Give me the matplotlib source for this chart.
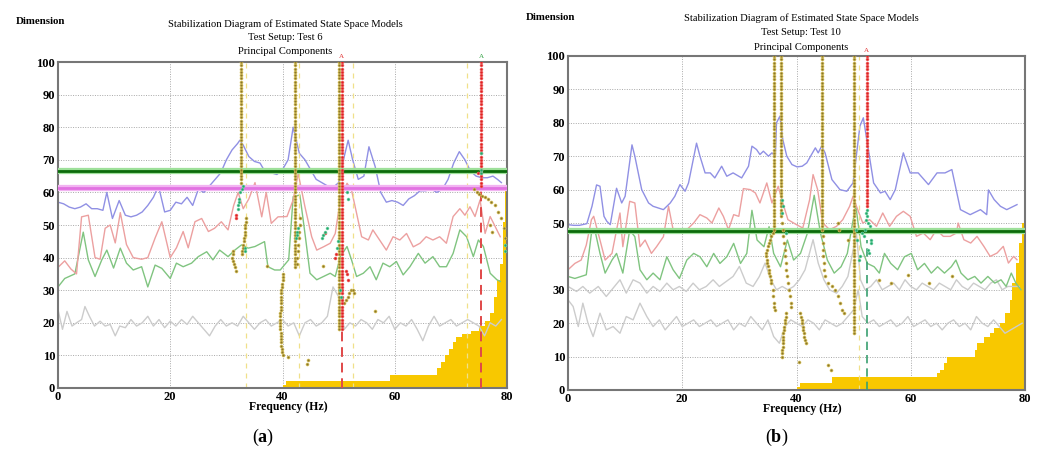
import numpy as np
import matplotlib.pyplot as plt

plt.rcParams['font.family'] = 'Liberation Serif'
plt.rcParams['mathtext.fontset'] = 'custom'
plt.rcParams['mathtext.rm'] = 'Liberation Serif'
plt.rcParams['mathtext.bf'] = 'Liberation Serif:bold'

# ---------------- panel (a): Test 6 ----------------
a_blue_f = [0, 1, 2, 3, 4, 5, 6, 7, 8, 8.7, 9.7, 10.9, 12, 13, 14, 15, 16, 17, 17.9, 19, 20, 21, 22, 23, 24, 25,
            26, 27, 28, 29, 30, 31, 32, 32.4, 33, 34, 35, 36, 37, 38, 39, 40, 41, 41.9, 43, 44, 45, 46, 47, 48,
            49, 50, 51, 51.7, 52.5, 53.5, 54.5, 55.4, 56.5, 57.5, 58.5, 59.5, 60.5, 61.5, 62.5, 63.5, 64.5,
            65.5, 66.5, 67.5, 68.5, 69.5, 70.5, 71.5, 72.5, 73.5, 74.5, 75.5, 76.5, 77.5, 78.3, 79]
a_blue_v = [57, 56.5, 55.5, 55, 55.5, 56.5, 55, 55, 54.5, 60, 52, 57.5, 53, 52.5, 53, 54, 56, 58.5, 62, 54, 54.5,
            57, 56.5, 58.5, 56, 61, 60, 62, 64, 66, 70, 73, 75, 76, 74.5, 71, 69.5, 69, 66, 66, 65.5, 67, 70, 80,
            72, 70, 67, 64, 63, 62, 61.5, 63, 71, 76, 70, 64, 65, 74, 68, 60, 57, 57.5, 57, 56, 58, 59, 60.5,
            60.5, 61, 60, 61, 64, 69, 72.5, 70, 66.5, 65, 64.5, 64.5, 65, 64, 63]

a_red_f = [0, 1.2, 2.3, 3.3, 4.2, 5.4, 6.6, 7.5, 8.4, 9.3, 10.2, 11.1, 12.2, 13.4, 14.9, 16, 17.3, 18.5, 20, 21.1,
           22.3, 23.2, 24.4, 25.6, 26.8, 27.9, 29.1, 30.3, 31.3, 32.1, 33, 34, 35.1, 36.3, 37.1, 38, 39.2, 40.8,
           41.9, 42.8, 44, 45.2, 46.1, 47.3, 48.5, 49.4, 50.3, 51.5, 52.3, 53.2, 54.1, 55.3, 56.1, 57.3, 58.5,
           59.7, 60.9, 62.1, 63.3, 64.5, 65.6, 66.8, 68, 69.2, 70.4, 71.6, 72.5, 73.4, 74.3, 75.2, 76.1, 77,
           77.9, 78.8]
a_red_v = [37, 39, 36.5, 35, 52.5, 53, 40, 39.5, 49, 50, 44.5, 53.8, 44, 40, 39.5, 40, 46, 51, 40, 43, 48, 43, 51,
           52, 48, 49, 51, 48.5, 56, 60, 55, 58, 63, 52.5, 60, 50.5, 52.5, 52.6, 57.7, 65.8, 55.6, 46.4, 42.3,
           43.3, 44.4, 47.4, 57.7, 62.8, 60.7, 53.6, 46.4, 45.4, 48.5, 45.4, 42.3, 46.4, 45.4, 47.4, 43.3, 44.4,
           46.4, 45.4, 46.4, 44.4, 52.6, 55, 53, 55.6, 52.6, 57.7, 47.4, 52.6, 49.5, 46.4]

a_green_f = [0, 1.2, 3, 4.5, 5.4, 6.6, 7.8, 8.7, 9.9, 11.1, 12.2, 13.4, 14.9, 16, 17.3, 18.5, 20, 21.1, 22.3, 23.8,
             25, 26.5, 27.6, 28.8, 30.3, 31.5, 32.7, 33.9, 35.1, 36.8, 37.4, 38.6, 39.6, 41.1, 41.9, 43.1, 44,
             44.9, 46.1, 47.3, 48.5, 49.4, 50.3, 51.5, 52.3, 53.2, 54.4, 55.6, 56.7, 57.9, 59.1, 60.3, 61.5,
             62.7, 64.2, 65.4, 66.8, 68, 69.2, 70.4, 71.6, 72.8, 74, 74.9, 75.8, 77, 78.2, 78.8]
a_green_v = [31, 33.6, 35, 47.8, 39.3, 34.2, 39.3, 42.3, 36.8, 42.9, 38.3, 36.2, 37.2, 31, 37.7, 36.7, 33.6, 38.3,
             37.2, 38.3, 40.3, 41.8, 39.3, 42.3, 40.3, 42.3, 43.9, 42.9, 43.4, 44.9, 37.2, 36.2, 36.2, 39.3,
             58.7, 59.2, 47.4, 35.2, 33.2, 34.2, 35.2, 34.2, 40.3, 43.4, 39.3, 34.2, 35.2, 37.2, 33.2, 38.3,
             37.2, 38.8, 34.7, 37.2, 41.3, 38.3, 40.3, 37.2, 37.2, 41.3, 48.5, 46.4, 40.3, 45.4, 43.4, 35.2,
             33.2, 32.7]

a_gray_f = [0, 0.8, 1.6, 2.5, 3.3, 4.2, 4.8, 5.6, 6.5, 7.5, 8.4, 9.3, 10.2, 11, 12, 13, 14, 15, 16, 17, 18, 19,
            20, 21, 22, 23, 24, 25, 26, 27, 28, 29, 30, 31, 32, 33, 34, 35, 36, 37, 38, 39, 40, 41, 42, 43, 44,
            45, 46, 47, 48, 49, 50, 51, 52, 53, 54, 55, 56, 57, 58, 59, 60, 61, 62, 63, 64, 65, 66, 67, 68, 69,
            70, 71, 72, 73, 74, 75, 76, 77, 78, 79]
a_gray_v = [24, 18, 23.5, 19, 20, 21, 25, 22, 19, 20.5, 19, 19.5, 16, 19, 18.5, 21, 19, 20, 22, 19, 21, 18.5,
            20.5, 19, 21, 19.5, 22, 20, 18, 16, 19, 21, 19, 20, 19, 22, 20, 18, 20, 21, 19, 20, 21, 19, 20, 16,
            20, 21, 19, 20, 22, 31, 28, 18, 20, 19, 21, 20, 18, 21, 20, 22, 18, 20, 19, 21, 18, 14.5, 19, 22,
            19, 20, 21, 19, 20, 21, 20, 19, 16, 20, 19, 21]

a_fill_f = [40, 40.6, 59.2, 67.6, 68.3, 69.0, 69.6, 70.3, 71.0, 72.0, 73.5, 75.0, 76.0, 77.0, 77.6, 78.2, 78.8,
            79.3, 79.7, 80]
a_fill_v = [1, 2, 4, 6, 8, 10, 12, 14, 15.5, 16.5, 17.5, 19, 20.5, 23, 28, 33, 38, 51, 62, 73]

a_hlines = [66.5, 61.5]

# columns of stable poles: (frequency, lowest order, highest order)
a_cols = [(32.6, 63, 100), (42.2, 37, 100), (50.0, 18, 100)]
a_red_cols = [(50.6, 18, 100), (75.4, 62, 100)]

a_dot_f = [33.5, 33.5, 33.4, 33.4, 33.3, 33.3, 33.2, 33.1, 33.0, 32.9, 32.8, 32.7,
           31.2, 31.1, 31.0, 31.1, 31.3, 31.5, 31.7,
           40.1, 40.0, 40.0, 39.9, 39.9, 39.8, 39.8, 39.8, 39.7, 39.7, 39.7, 39.7, 39.6, 39.6, 39.6, 39.6,
           39.6, 39.6, 39.7, 39.7, 39.7, 39.8, 39.8, 39.9, 39.9, 40.0,
           42.5, 42.6, 42.7, 42.8, 42.9, 43.0, 43.1, 43.2,
           51.0, 51.3, 51.6, 51.9, 52.2, 52.5, 52.8,
           74.2, 74.6, 75.0, 75.5, 76.0, 76.6, 77.2, 77.8, 78.4, 79.0, 79.4, 79.6, 77.0, 77.4,
           37.3, 41.0, 44.3, 44.6, 47.2, 56.5]
a_dot_d = [52, 51, 50, 49, 48, 47, 46, 45, 44, 43, 42, 41,
           42, 41, 40, 39, 38, 37, 36,
           35, 34, 33, 32, 31, 30, 29, 28, 27, 26, 25, 24, 23, 22, 21, 20, 19, 18, 17, 16, 15, 14, 13, 12,
           11, 10,
           38, 40, 42, 44, 46, 48, 50, 52,
           26, 27, 28, 29, 30, 30, 29,
           61, 60, 59.5, 59, 58.5, 58, 57, 56, 54, 52, 49, 46, 50, 48,
           37.5, 9.5, 7.5, 8.5, 37.5, 23.5]

a_rdot_f = [31.8, 31.8, 49.3, 49.6, 47.6, 51.3, 51.5, 51.7, 74.8]
a_rdot_d = [53, 52, 40, 41, 47.5, 36, 35, 33, 66]

a_teal_f = [32.9, 32.7, 32.5, 32.3, 32.2, 32.1, 32.0, 33.3, 33.4, 42.5, 42.6, 42.7, 42.4, 47.0, 47.3, 47.6,
            47.9, 49.7, 49.9, 50.2, 50.4, 75.4, 75.4, 75.3, 79.6, 79.7, 51.5, 51.7]
a_teal_d = [62, 61, 60, 58, 57, 56, 55, 43, 42, 48, 47, 49, 46, 46, 47, 48, 49, 43, 45, 30, 28, 66, 67, 72,
            42, 44, 60, 58]

a_red_dash = [(50.6, 18), (75.4, 62)]
a_faint_dash = [33.5, 43.0, 52.6, 72.9]
a_marks = [(50.5, '#e03030'), (75.4, '#30a040')]

# ---------------- panel (b): Test 10 ----------------
b_blue_f = [0, 1, 2, 3.3, 4.2, 5.0, 5.6, 6.3, 6.8, 7.4, 8.5, 9.4, 10.0, 11.2, 11.7, 12.9, 14.1, 14.9, 16.7,
            17.9, 18.7, 19.6, 20.5, 21.1, 22.5, 23.1, 24.0, 24.9, 25.7, 26.9, 27.8, 28.9, 30.4, 31.6, 32.2,
            33.0, 33.6, 34.2, 35.1, 35.7, 36.3, 36.5, 37.1, 37.6, 38.3, 39.2, 40.1, 41.0, 41.8, 43.3, 43.8,
            44.4, 45.0, 46.2, 47.6, 48.8, 49.9, 51.1, 51.7, 52.3, 53.5, 54.7, 55.5, 56.4, 57.3, 58.7, 59.9,
            61.3, 63.1, 64.6, 66.0, 67.2, 68.7, 70.4, 72.2, 73.3, 73.6, 74.6, 75.7, 76.8, 78.6]
b_blue_v = [49.5, 49.3, 49.3, 49.8, 55, 61.4, 61, 52, 50.5, 49.5, 60.4, 56, 58, 73.4, 70, 60, 56, 55, 54, 56,
            58, 61.5, 59.5, 62, 73.9, 70, 65, 65, 63.5, 67, 64, 65, 63.5, 67, 73, 72, 70.5, 71.5, 70, 71, 70,
            80, 82, 75, 70, 67.5, 66.8, 67, 68, 72.5, 71, 73, 71, 63, 60, 59.5, 62, 79, 81.5, 75, 62, 59, 59.5,
            57, 60, 71, 65, 65, 61.5, 65, 65, 66, 54, 52.5, 54, 52.5, 59.9, 57, 55, 54, 55.5]

b_red_f = [0, 1.2, 2.3, 3.2, 4.1, 4.5, 5.6, 6.5, 7.7, 8.5, 9.1, 9.6, 10.8, 11.7, 12.6, 13.5, 14.6, 15.5, 16.7,
           17.6, 18.4, 19.5, 20.8, 22, 23.1, 24.3, 25.2, 26.4, 27.2, 28.1, 29, 29.9, 30.7, 31.9, 32.8, 33.6,
           34.8, 35.7, 36.8, 37.6, 38.5, 40, 41.1, 42.3, 42.9, 43.7, 44.6, 45.8, 47, 48.1, 49.3, 49.9, 50.5,
           51.6, 52.8, 54, 55.1, 56.3, 57.5, 58.7, 59.9, 61, 62.2, 63.4, 64.5, 65.7, 66.9, 68, 68.3, 69.3,
           70.5, 71.6, 72.8, 73.9, 75.1, 76.2, 77.1, 78, 78.6]
b_red_v = [36, 37.9, 38.9, 43.4, 51, 52, 44.9, 38.9, 40.9, 47.9, 53, 42.9, 56.5, 56, 42.9, 44.9, 40.9, 42.9,
           45.9, 55, 48, 47, 48, 50, 52.5, 51.5, 50, 54.5, 52, 48, 52.5, 52, 60.3, 60, 59, 56, 62, 56, 61, 56,
           51, 49.5, 48.5, 57, 64.5, 60, 50, 48, 49, 51, 55, 58, 55, 50, 51, 49, 53, 49, 52, 53.5, 52, 46, 47,
           45, 48, 46, 46, 47, 50, 45, 44, 46, 43, 40, 41, 43, 38, 40, 39]

b_green_f = [0, 1.2, 2.3, 3.2, 4.1, 4.7, 5.6, 6.5, 7.7, 8.5, 9.6, 10.8, 11.7, 12.6, 13.8, 14.9, 16.1, 17.3,
             18.4, 19.5, 20.8, 22, 23.1, 24.3, 25.5, 26.6, 27.8, 29, 30.2, 31.3, 32.2, 33.1, 34.3, 35.2, 36,
             37.2, 38.4, 39.5, 40.7, 41.9, 43.1, 44.2, 45.4, 46.6, 47.8, 48.9, 49.8, 50.4, 51.3, 52.4, 53.6,
             54.5, 55.4, 56.5, 57.7, 58.9, 60.1, 61.2, 62.4, 63.6, 64.7, 65.9, 67.1, 67.9, 68.8, 70, 71.2,
             72.3, 73.5, 74.7, 75.8, 76.7, 77.6, 78.4, 79.3]
b_green_v = [34, 33.4, 34, 34.5, 46.9, 47.9, 40.9, 35, 38.9, 40.9, 35, 47.9, 45.9, 36, 33, 35, 33, 39.9, 36,
             33.4, 38.9, 40.9, 39.9, 36.9, 40.9, 37.9, 39.9, 43.9, 37.9, 40.9, 53.8, 44.9, 42.9, 48.9, 40.9,
             36.9, 44.9, 38.9, 40.9, 46.9, 58.3, 46.9, 38.9, 35, 36.9, 40.9, 49.9, 55, 42.9, 37.9, 36.9, 35,
             40.9, 37.9, 36, 39.9, 40.9, 36, 37.9, 35, 36.9, 35, 36.9, 38.9, 35, 33, 34, 32, 34, 32, 33, 31, 35,
             32, 30]

b_gray_f = [0, 1.5, 2.6, 3.8, 5.3, 6.7, 7.9, 9.1, 10.2, 11.4, 12.6, 13.8, 14.9, 16.1, 17.3, 18.4, 19.5, 20.7,
            21.9, 23, 24.2, 25.4, 26.5, 27.7, 28.9, 30, 31.2, 32.4, 33.5, 34.5, 35.5, 36.5, 37.5, 38.5, 39.5,
            40.5, 41.5, 42.9, 43.8, 44.8, 45.8, 47, 48, 49, 50.5, 51.2, 52, 53, 54, 55, 56, 57, 58, 59, 60, 61,
            62, 63, 64, 65, 66, 67, 68, 69, 70, 71, 72, 73, 74, 75, 76, 77, 78, 79]
b_gray_v = [31, 29.5, 31, 29, 31, 28, 30.5, 33, 29, 33, 32, 29, 31, 29.5, 32, 30, 31, 29.5, 32, 30, 31, 33, 31,
            32.5, 34, 37, 32, 31, 34, 38, 33, 30, 31, 30, 31, 33, 36, 45, 38, 33, 30, 29, 31, 34, 47, 33, 30, 31,
            33, 30, 31, 32, 30, 33, 31, 30, 32, 31, 30, 32, 31, 30, 33, 31, 30, 32, 31, 30, 32, 33, 30, 31, 31,
            31]

b_gray2_f = [0, 0.9, 1.8, 2.6, 3.5, 4.4, 5.6, 6.7, 7.9, 9.1, 10.2, 11.4, 12.6, 13.8, 14.9, 16, 17, 18, 19, 20,
             21, 22, 23, 24, 25, 26, 27, 28, 29, 30, 31, 32, 33, 34, 35, 36, 37, 38, 39, 40, 41, 42, 43, 44, 45,
             46, 47, 48, 49, 50, 50.8, 51.5, 52.5, 53.5, 54.5, 55.5, 56.5, 57.5, 58.5, 59.5, 60.5, 61.5, 62.5,
             63.5, 64.5, 65.5, 66.5, 67.5, 68.5, 69.5, 70.5, 71.5, 72.5, 73.5, 74.5, 75.5, 76.5, 77.5, 78.5,
             79.5]
b_gray2_v = [27, 25, 19, 26, 20, 16, 23, 18, 19, 17, 22, 21, 26, 22, 19, 21, 18, 20, 22, 19, 20, 21, 19, 20, 21,
             19, 20, 21, 18, 20, 19, 22, 20, 18, 21, 16, 14, 19, 21, 20, 19, 21, 20, 18, 21, 20, 19, 20, 22, 24,
             30, 22, 20, 21, 19, 20, 21, 19, 20, 22, 19, 20, 21, 19, 20, 18, 20, 21, 19, 20, 18, 22, 20, 19, 21,
             19, 17, 18, 19, 20]

b_fill_f = [40.1, 40.7, 46.2, 64.6, 65.2, 65.8, 66.4, 71.3, 71.6, 72.8, 73.8, 74.5, 75.7, 76.5, 77.3, 77.8,
            78.4, 78.9, 79.4, 79.8, 80]
b_fill_v = [1, 2, 4, 5, 6, 8, 10, 12, 14, 16, 17, 18.5, 20, 23, 27, 32, 38, 44, 50, 60, 66]

b_hlines = [47.5]

b_cols = [(36.0, 48, 100), (37.3, 52, 100), (44.4, 48, 100), (50.0, 17, 100)]
b_red_cols = [(52.3, 57, 100)]

b_dot_f = [35.8, 35.6, 35.4, 35.2, 35.0, 34.8, 34.7, 34.7, 34.8, 34.9, 35.0, 35.1, 35.2, 35.4, 35.5, 35.6,
           35.8, 35.9, 36.0, 36.1, 36.2,
           37.5, 37.6, 37.7, 37.8, 37.9, 38.0, 38.1, 38.2, 38.3, 38.5, 38.7, 38.9, 39.0, 39.1,
           38.2, 38.1, 38.0, 37.9, 37.8, 37.8, 37.7, 37.7, 37.6, 37.6, 37.6, 37.5, 37.5, 37.5,
           44.6, 44.6, 44.7, 44.7, 44.8, 44.9, 45.0, 45.6, 46.2, 46.8, 47.2, 47.6, 48.0, 48.3,
           40.7, 40.8, 40.9, 41.0, 41.1, 41.2, 41.3, 41.4, 41.5, 41.6,
           40.5, 45.5, 46.0, 54.5, 56.5, 59.5, 63.2, 67.3, 49.0, 47.2, 47.5]
b_dot_d = [47, 46, 45, 44, 43, 42, 41, 40, 39, 38, 37, 36, 35, 34, 33, 32, 30, 28, 26, 25, 24,
           50, 48, 46, 44, 42, 40, 38, 36, 34, 32, 30, 28, 26, 25,
           23, 22, 21, 20, 19, 18, 17, 16, 15, 14, 13, 12, 11, 10,
           46, 44, 42, 40, 38, 36, 34, 32, 31, 30, 28, 26, 24, 23,
           23, 22, 21, 20, 19, 18, 17, 16, 15, 14,
           8.5, 7.5, 6, 33, 32, 34.5, 32, 34, 45, 50, 48]

b_rdot_f = [52.4, 52.4]
b_rdot_d = [56, 55]

b_teal_f = [52.3, 52.2, 52.4, 52.1, 52.6, 52.8, 52.0, 51.5, 51.8, 53.0, 53.1, 52.5, 52.7, 51.2, 50.9,
            37.5, 37.6, 37.4, 38.2, 50.5, 50.6]
b_teal_d = [54, 53, 52, 51, 50, 49, 48, 47, 46, 45, 44, 42, 41, 40, 39, 57, 55, 53, 47, 48, 45]

b_red_dash = []
b_green_dash = [(52.3, 45)]
b_faint_dash = [51.0]
b_marks = [(52.3, '#e03030')]

BLUE = '#9090e4'
RED = '#eca0a0'
GREEN = '#80c480'
GRAY = '#cccccc'
GOLD = '#f8c800'


def column_points(cols):
    f, d = [], []
    for fr, lo, hi in cols:
        orders = np.arange(lo, hi + 1)
        f.extend([fr] * len(orders))
        d.extend(orders)
    return f, d


def draw_panel(ax, lines, hlines, fill_f, fill_v, cols, red_cols, dots, reds, teals,
               red_dash, green_dash, faint_dash, marks, skip_tick=None):
    ax.set_xlim(0, 80)
    ax.set_ylim(0, 100)

    ax.fill_between(fill_f, 0, fill_v, step='post', color=GOLD, lw=0, zorder=1)
    for f, v, c in lines:
        ax.plot(f, v, color=c, lw=1.0, zorder=2)

    for x in faint_dash:
        ax.axvline(x, color='#f0e08a', lw=0.9, ls=(0, (4, 4)), zorder=2)
    for x, top in red_dash:
        ax.plot([x, x], [0, top], color='#e04848', lw=1.4, ls=(0, (5, 3)), zorder=3)
    for x, top in green_dash:
        ax.plot([x, x], [0, top], color='#3aa070', lw=1.2, ls=(0, (5, 3)), zorder=3)

    for y, c, halo in hlines:
        ax.axhline(y, color=halo, lw=4.5, zorder=4)
        ax.axhline(y, color=c, lw=2.0, zorder=4)

    cf, cd = column_points(cols)
    ax.plot(cf + list(dots[0]), cd + list(dots[1]), ls='none', marker='o', ms=2.1,
            mfc='#8a7628', mec='#d9c25a', mew=0.5, zorder=5)
    rf, rd = column_points(red_cols)
    ax.plot(rf + list(reds[0]), rd + list(reds[1]), ls='none', marker='o', ms=2.1,
            mfc='#e02020', mec='#f07070', mew=0.4, zorder=6)
    ax.plot(teals[0], teals[1], ls='none', marker='o', ms=2.1,
            mfc='#20a868', mec='#80d8b0', mew=0.4, zorder=6)

    for x, c in marks:
        ax.text(x, 100.8, 'A', color=c, fontsize=5, ha='center', va='bottom')

    ax.grid(True, color='#a8a8a8', ls=(0, (1, 1.5)), lw=0.7)
    ax.set_axisbelow(True)
    ax.set_xticks([0, 20, 40, 60, 80])
    ax.set_yticks(range(0, 101, 10))
    ylabels = [str(t) if t != skip_tick else '' for t in range(0, 101, 10)]
    ax.set_yticklabels(ylabels)
    ax.tick_params(length=0, labelsize=9, pad=2)
    for lab in ax.get_xticklabels() + ax.get_yticklabels():
        lab.set_fontweight('bold')
    for sp in ax.spines.values():
        sp.set_color('#767676')
        sp.set_linewidth(1.5)


W, H = 1041, 451
fig = plt.figure(figsize=(W / 100, H / 100), dpi=100)


def px(x, y):
    return x / W, 1 - y / H


ax_a = fig.add_axes([58 / W, 1 - 388 / H, 449 / W, 326 / H])
ax_b = fig.add_axes([568 / W, 1 - 390 / H, 457 / W, 334 / H])

draw_panel(ax_a,
           [(a_gray_f, a_gray_v, GRAY), (a_green_f, a_green_v, GREEN),
            (a_red_f, a_red_v, RED), (a_blue_f, a_blue_v, BLUE)],
           [(a_hlines[0], '#0b6b0b', '#9ee09a'), (a_hlines[1], '#e272e2', '#f2b4f2')],
           a_fill_f, a_fill_v, a_cols, a_red_cols, (a_dot_f, a_dot_d), (a_rdot_f, a_rdot_d),
           (a_teal_f, a_teal_d), a_red_dash, [], a_faint_dash, a_marks)

draw_panel(ax_b,
           [(b_gray2_f, b_gray2_v, GRAY), (b_gray_f, b_gray_v, GRAY), (b_green_f, b_green_v, GREEN),
            (b_red_f, b_red_v, RED), (b_blue_f, b_blue_v, BLUE)],
           [(b_hlines[0], '#0b6b0b', '#9ee09a')],
           b_fill_f, b_fill_v, b_cols, b_red_cols, (b_dot_f, b_dot_d), (b_rdot_f, b_rdot_d),
           (b_teal_f, b_teal_d), b_red_dash, b_green_dash, b_faint_dash, b_marks, skip_tick=40)

# titles and labels
title_a = ['Stabilization Diagram of Estimated State Space Models', 'Test Setup: Test 6', 'Principal Components']
title_b = ['Stabilization Diagram of Estimated State Space Models', 'Test Setup: Test 10', 'Principal Components']
for i, line in enumerate(title_a):
    fig.text(*px(285, 24 + 14 * i), line, ha='center', va='center', fontsize=7.6)
for i, line in enumerate(title_b):
    fig.text(*px(801, 18 + 14.5 * i), line, ha='center', va='center', fontsize=7.6)

fig.text(*px(40, 22), 'Dimension', ha='center', va='center', fontsize=7.8, fontweight='bold')
fig.text(*px(550, 18), 'Dimension', ha='center', va='center', fontsize=7.8, fontweight='bold')
fig.text(*px(288, 407), 'Frequency (Hz)', ha='center', va='center', fontsize=8.5, fontweight='bold')
fig.text(*px(802, 409), 'Frequency (Hz)', ha='center', va='center', fontsize=8.5, fontweight='bold')
fig.text(*px(263, 437), r'($\mathbf{a}$)', ha='center', va='center', fontsize=13)
fig.text(*px(777, 437), r'($\mathbf{b}$)', ha='center', va='center', fontsize=13)

fig.savefig('out.png', dpi=100)
